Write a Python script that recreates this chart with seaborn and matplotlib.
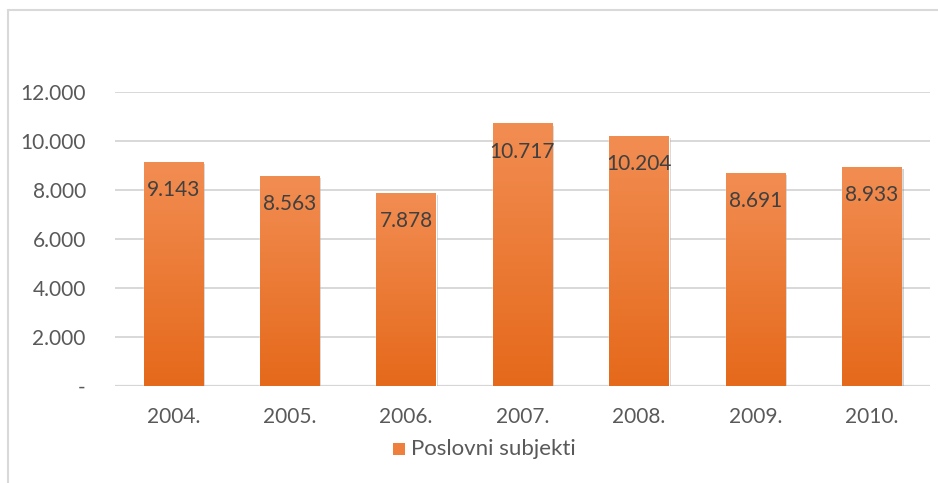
import numpy as np
import pandas as pd
import matplotlib
matplotlib.use("Agg")
import matplotlib.pyplot as plt
import matplotlib.patheffects as pe
from matplotlib.colors import LinearSegmentedColormap
from matplotlib.patches import Rectangle
import seaborn as sns

years = ["2004.", "2005.", "2006.", "2007.", "2008.", "2009.", "2010."]
values = [9143, 8563, 7878, 10717, 10204, 8691, 8933]
series_name = "Poslovni subjekti"

sns.set_theme(style="white")
plt.rcParams["font.family"] = ["Lato", "DejaVu Sans"]

df = pd.DataFrame({"year": years, "value": values})

W, H = 938, 483
fig = plt.figure(figsize=(W / 100, H / 100), dpi=100)
ax = fig.add_axes([115 / W, 1 - 386 / H, (930 - 115) / W, (386 - 92) / H])

top_c = "#F28D52"
bot_c = "#E5691B"
cmap = LinearSegmentedColormap.from_list("og", [bot_c, top_c])

sns.barplot(data=df, x="year", y="value", color=top_c, width=0.51, ax=ax,
            saturation=1, zorder=3)

ax.set_ylim(0, 12000)
ax.set_xlim(-0.5, len(years) - 0.5)
ax.set_yticks(np.arange(0, 12001, 2000))
ax.set_yticklabels(["-" if v == 0 else f"{v:,}".replace(",", ".") for v in range(0, 12001, 2000)])
ax.grid(axis="y", color="#D6D6D6", linewidth=1.3, zorder=0)
ax.set_axisbelow(True)
for s in ax.spines.values():
    s.set_visible(False)
ax.axhline(0, color="#D6D6D6", linewidth=1.6, zorder=2)
ax.set_xlabel("")
ax.set_ylabel("")
ax.tick_params(axis="both", length=0, labelsize=15, labelcolor="#595959")
ax.tick_params(axis="y", pad=21)
ax.tick_params(axis="x", pad=15)

grad = np.linspace(0, 1, 256).reshape(-1, 1)
for p, v in zip(ax.patches, values):
    p.set_path_effects([pe.SimplePatchShadow(offset=(1.5, -1.5), shadow_rgbFace="#808080", alpha=0.35),
                        pe.Normal()])
    x0 = p.get_x()
    w = p.get_width()
    h = p.get_height()
    im = ax.imshow(grad, aspect="auto", cmap=cmap, origin="lower",
                   extent=(x0, x0 + w, 0, h), zorder=3.5)
    im.set_clip_path(p)
    ax.text(x0 + w / 2, h - 1150, f"{v:,}".replace(",", "."), ha="center", va="center",
            fontsize=15, color="#404040", zorder=5)

ax.set_xlim(-0.5, len(years) - 0.5)
ax.set_ylim(0, 12000)

# legend
sq = Rectangle((393 / W, 1 - 455 / H), 12 / W, 12 / H, transform=fig.transFigure,
               facecolor="#EE7F3C", edgecolor="none")
fig.patches.append(sq)
fig.text(411 / W, 1 - 449 / H, series_name, ha="left", va="center", fontsize=16, color="#595959")

# chart frame (partially visible)
fig.add_artist(plt.Line2D([8 / W, 8 / W], [0, 1 - 10 / H], transform=fig.transFigure,
                          color="#D9D9D9", linewidth=1.5))
fig.add_artist(plt.Line2D([8 / W, 1], [1 - 10 / H, 1 - 10 / H], transform=fig.transFigure,
                          color="#D9D9D9", linewidth=1.5))

fig.savefig("out.png", dpi=100)
